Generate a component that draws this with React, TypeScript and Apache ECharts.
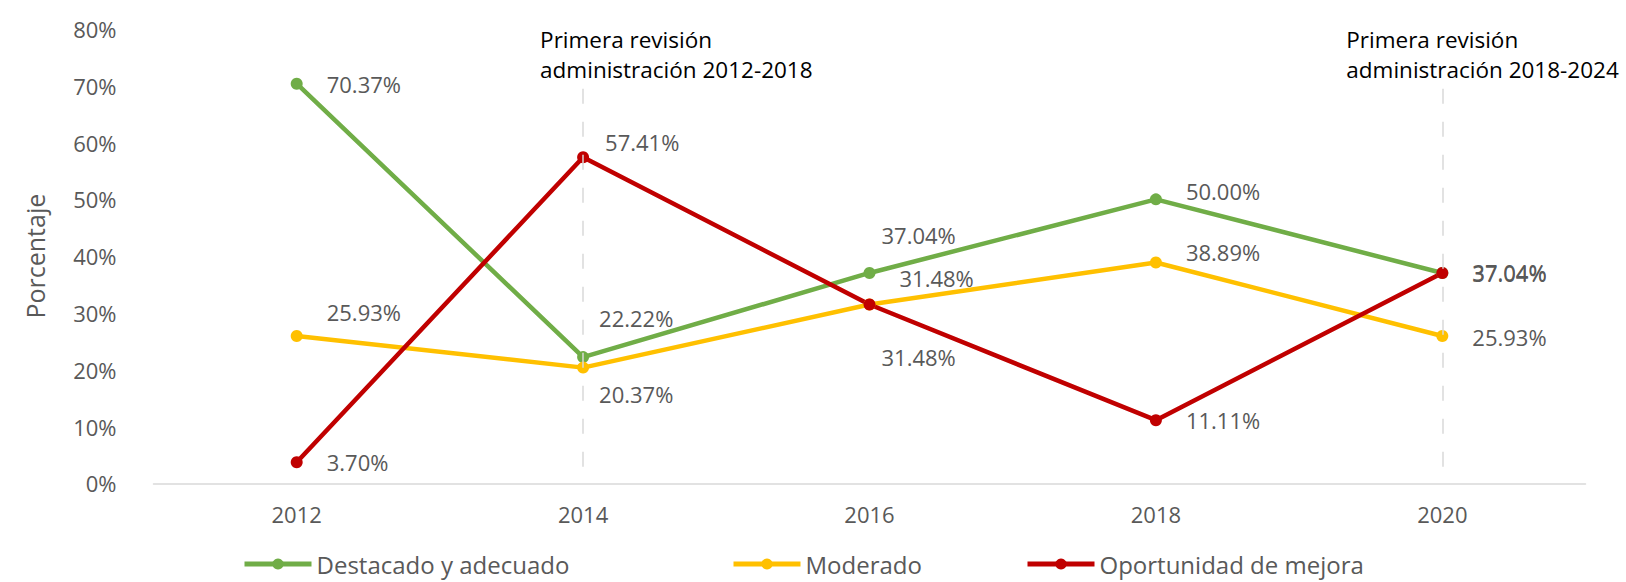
import React, { useEffect, useRef } from "react";
import * as echarts from "echarts";

const years = ["2012", "2014", "2016", "2018", "2020"];
const destacado = [70.37, 22.22, 37.04, 50.0, 37.04];
const moderado = [25.93, 20.37, 31.48, 38.89, 25.93];
const oportunidad = [3.7, 57.41, 31.48, 11.11, 37.04];
const seriesNames = ["Destacado y adecuado", "Moderado", "Oportunidad de mejora"];
const yTicks = { min: 0, max: 80, interval: 10 };
const annotations = [
  { year: "2014", lines: ["Primera revisión", "administración 2012-2018"] },
  { year: "2020", lines: ["Primera revisión", "administración 2018-2024"] },
];

// label placement tweaks (style only)
const offsetsGreen = [[0, 0], [-14, -39], [-18, -38], [0, -8], [0, -1]];
const offsetsYellow = [[0, -24], [-14, 26], [0, -27], [0, -10], [0, 1]];
const offsetsRed = [[0, 0], [-8, -15], [-18, 52], [0, 0], [0, 0]];
const annotationLineY = [78.1, 72.8];
const annotationDx = [-43, -96];

const FONT = "'Open Sans', 'Noto Sans', sans-serif";
const GREY = "#595959";

function makeSeries(name: string, values: number[], color: string, offsets: number[][]) {
  return {
    name,
    type: "line",
    data: values.map((v, i) => ({
      value: v,
      label: { offset: offsets[i] },
    })),
    symbol: "circle",
    symbolSize: 12,
    lineStyle: { color, width: 4.5 },
    itemStyle: { color },
    label: {
      show: true,
      position: "right",
      distance: 24,
      color: GREY,
      fontFamily: FONT,
      fontSize: 22,
      formatter: (p: any) => p.value.toFixed(2) + "%",
    },
  };
}

export default function App() {
  const ref = useRef<HTMLDivElement>(null);
  useEffect(() => {
    if (!ref.current) return;
    const chart = echarts.init(ref.current, undefined, { renderer: "svg" });
    const green = makeSeries(seriesNames[0], destacado, "#70AD47", offsetsGreen) as any;
    const yellow = makeSeries(seriesNames[1], moderado, "#FFC000", offsetsYellow) as any;
    const red = makeSeries(seriesNames[2], oportunidad, "#C00000", offsetsRed) as any;
    green.markLine = {
      silent: true,
      symbol: "none",
      label: { show: false },
      lineStyle: { color: "#D9D9D9", width: 1.5, type: [15, 18] },
      data: annotations.map((a) => [
        { coord: [a.year, 69.5] },
        { coord: [a.year, 0] },
      ]),
    };
    const mpData: any[] = [];
    annotations.forEach((a, i) => {
      a.lines.forEach((line, j) => {
        mpData.push({
          coord: [a.year, annotationLineY[j]],
          label: {
            show: true,
            position: [annotationDx[i], 0],
            align: "left",
            verticalAlign: "middle",
            formatter: line,
            color: "#000000",
            fontFamily: FONT,
            fontSize: 22.5,
            lineHeight: 24,
          },
        });
      });
    });
    green.markPoint = {
      silent: true,
      symbol: "circle",
      symbolSize: 0,
      data: mpData,
    };
    const legendBase = {
      top: 552,
      padding: 0,
      itemWidth: 67,
      itemHeight: 14,
      itemGap: 5,
      lineStyle: { width: 5 },
      textStyle: { color: GREY, fontFamily: FONT, fontSize: 24 },
    };
    chart.setOption({
      animation: false,
      textStyle: { fontFamily: FONT },
      grid: { left: 153.5, right: 40.5, top: 29, bottom: 98.7, containLabel: false },
      legend: [
        { ...legendBase, left: 242, data: [seriesNames[0]] },
        { ...legendBase, left: 731, data: [seriesNames[1]] },
        { ...legendBase, left: 1025, data: [seriesNames[2]] },
      ],
      xAxis: {
        type: "category",
        data: years,
        boundaryGap: true,
        axisTick: { show: false },
        axisLine: { lineStyle: { color: "#D9D9D9", width: 1.5 } },
        axisLabel: { color: GREY, fontFamily: FONT, fontSize: 22, margin: 20 },
      },
      yAxis: {
        type: "value",
        min: yTicks.min,
        max: yTicks.max,
        interval: yTicks.interval,
        name: "Porcentaje",
        nameLocation: "middle",
        nameGap: 106,
        nameTextStyle: { color: GREY, fontFamily: FONT, fontSize: 25 },
        splitLine: { show: false },
        axisLine: { show: false },
        axisTick: { show: false },
        axisLabel: {
          color: GREY,
          fontFamily: FONT,
          fontSize: 22,
          margin: 37,
          formatter: "{value}%",
        },
      },
      series: [green, yellow, red],
    });
    return () => chart.dispose();
  }, []);
  return (
    <div
      ref={ref}
      style={{ position: "fixed", left: 0, top: 0, width: 1626, height: 582, background: "#fff" }}
    />
  );
}
